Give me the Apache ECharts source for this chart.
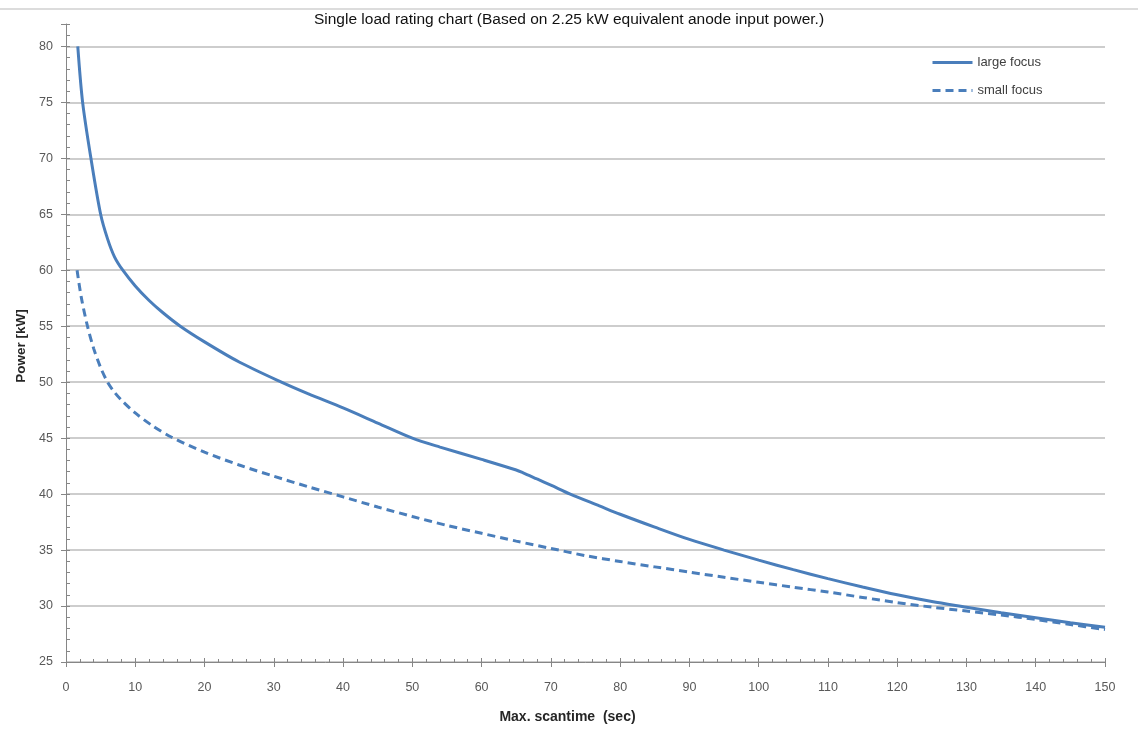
<!DOCTYPE html>
<html>
<head>
<meta charset="utf-8">
<script src="https://cdn.jsdelivr.net/npm/echarts@6/dist/echarts.min.js"></script>
<style>
  html, body { margin: 0; padding: 0; background: #ffffff; }
  #chart { width: 1138px; height: 731px; }
</style>
</head>
<body>
<div id="chart"></div>
<script>
// Scan time (s) and rated power (kW) for each focal spot
const largeTime  = [1.7, 2.4, 3.6, 5.0, 6.0, 7.0, 8.2, 10, 12, 14, 16.5, 20, 25, 31.1, 35, 40, 45, 50, 54, 60, 65, 66, 68, 70, 72.8, 77, 80, 85, 90, 95, 100, 105, 110, 115, 120, 125, 130, 135, 140, 145, 150];
const largePower = [80, 75, 70, 65, 62.8, 61.2, 60.0, 58.6, 57.3, 56.2, 55.0, 53.6, 51.8, 50.0, 48.95, 47.7, 46.35, 45.0, 44.2, 43.1, 42.15, 41.9, 41.35, 40.8, 40.0, 38.95, 38.2, 37.05, 35.95, 35.0, 34.1, 33.25, 32.45, 31.7, 31.0, 30.4, 29.9, 29.4, 28.95, 28.5, 28.1];

const smallTime  = [1.6, 2.2, 3.1, 4.0, 5.0, 6.0, 7.0, 8.0, 10, 12.5, 15.2, 20, 25, 30, 35, 40, 45, 50, 55, 60, 65, 70, 75, 80, 85, 90, 95, 100, 105, 110, 115, 120, 125, 130, 135, 140, 145, 150];
const smallPower = [60, 57.6, 55.0, 53.0, 51.3, 50.0, 49.1, 48.4, 47.25, 46.1, 45.1, 43.75, 42.6, 41.6, 40.65, 39.75, 38.85, 38.0, 37.2, 36.5, 35.8, 35.15, 34.5, 33.98, 33.5, 33.03, 32.57, 32.12, 31.68, 31.25, 30.77, 30.3, 29.9, 29.55, 29.2, 28.8, 28.35, 27.9];

const seriesNames = ['large focus', 'small focus'];
const titleText = 'Single load rating chart (Based on 2.25 kW equivalent anode input power.)';
const xName = 'Max. scantime  (sec)';
const yName = 'Power [kW]';

const pairs = (xs, ys) => xs.map((x, i) => [x, ys[i]]);

const lineColor = '#4a7ebb';
const labelStyle = { color: '#595959', fontFamily: 'Liberation Sans', fontSize: 12.5 };

const chart = echarts.init(document.getElementById('chart'));
chart.setOption({
  backgroundColor: '#ffffff',
  animation: false,
  title: {
    text: titleText,
    left: 'center',
    top: 7,
    textStyle: { fontFamily: 'Liberation Sans', fontSize: 15.5, fontWeight: 'normal', color: '#111111' }
  },
  legend: {
    orient: 'vertical',
    left: 926,
    top: 51,
    itemWidth: 40,
    itemHeight: 10,
    itemGap: 15,
    itemStyle: { opacity: 0 },
    lineStyle: { width: 3 },
    textStyle: { fontFamily: 'Liberation Sans', fontSize: 13, color: '#404040' },
    data: seriesNames
  },
  grid: { left: 66, right: 33, top: 24, bottom: 69 },
  xAxis: [{
    type: 'value',
    min: 0, max: 150, interval: 10,
    name: xName,
    nameLocation: 'middle',
    nameGap: 48,
    nameTextStyle: { fontFamily: 'Liberation Sans', fontSize: 14, fontWeight: 'bold', color: '#262626', padding: [0, 36, 0, 0] },
    axisLine: { show: true, lineStyle: { color: '#868686', width: 1 } },
    axisTick: { show: true, inside: true, length: 4, lineStyle: { color: '#868686' } },
    minorTick: { show: true, splitNumber: 5, length: 3, lineStyle: { color: '#868686' } },
    axisLabel: Object.assign({ margin: 19 }, labelStyle),
    splitLine: { show: false }
  }, {
    // outward half of the major ticks
    type: 'value', position: 'bottom', gridIndex: 0,
    min: 0, max: 150, interval: 10,
    axisLine: { show: false },
    axisTick: { show: true, length: 5, lineStyle: { color: '#868686' } },
    axisLabel: { show: false },
    splitLine: { show: false }
  }],
  yAxis: [{
    type: 'value',
    min: 25, max: 82, interval: 5,
    name: yName,
    nameLocation: 'middle',
    nameGap: 38,
    nameRotate: 90,
    nameTextStyle: { fontFamily: 'Liberation Sans', fontSize: 13.5, fontWeight: 'bold', color: '#262626', padding: [0, 6, 0, 0] },
    axisLine: { show: true, lineStyle: { color: '#868686', width: 1 } },
    axisTick: { show: true, inside: true, length: 4, lineStyle: { color: '#868686' } },
    minorTick: { show: true, splitNumber: 5, length: 4, lineStyle: { color: '#868686' } },
    axisLabel: Object.assign({ margin: 13, formatter: v => (v % 5 === 0 ? String(v) : '') }, labelStyle),
    splitLine: { show: true, showMaxLine: false, lineStyle: { color: '#bdbdbd', width: 1.5 } }
  }, {
    type: 'value', position: 'left', gridIndex: 0,
    min: 25, max: 82, interval: 5,
    axisLine: { show: false },
    axisTick: { show: true, length: 5, lineStyle: { color: '#868686' } },
    axisLabel: { show: false },
    splitLine: { show: false }
  }],
  graphic: [{
    type: 'line',
    shape: { x1: 0, y1: 9, x2: 1138, y2: 9 },
    style: { stroke: '#d0d0d0', lineWidth: 1.5 },
    z: -1
  }],
  series: [{
    name: seriesNames[0],
    type: 'line',
    data: pairs(largeTime, largePower),
    smooth: 0.3,
    symbol: 'none',
    lineStyle: { color: lineColor, width: 3 },
    itemStyle: { color: lineColor }
  }, {
    name: seriesNames[1],
    type: 'line',
    data: pairs(smallTime, smallPower),
    smooth: 0.3,
    symbol: 'none',
    lineStyle: { color: lineColor, width: 3, type: [8, 5] },
    itemStyle: { color: lineColor }
  }]
});
</script>
</body>
</html>
